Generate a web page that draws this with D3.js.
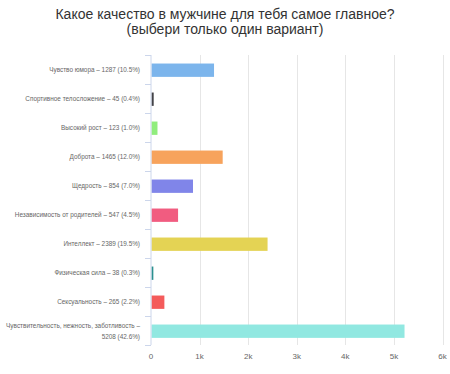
<!DOCTYPE html>
<html>
<head>
<meta charset="utf-8">
<script src="https://cdnjs.cloudflare.com/ajax/libs/d3/7.8.5/d3.min.js"></script>
<style>
  body { margin: 0; background: #fff; }
  svg { display: block; font-family: "Liberation Sans", Arial, sans-serif; }
  .title { fill: #333; font-size: 14px; }
  .cat { fill: #666; font-size: 6.4px; }
  .xlab { fill: #666; font-size: 8px; }
</style>
</head>
<body>
<div id="chart"></div>
<script>
// survey data
var titleLines = ["Какое качество в мужчине для тебя самое главное?", "(выбери только один вариант)"];

var categories = [
  "Чувство юмора",
  "Спортивное телосложение",
  "Высокий рост",
  "Доброта",
  "Щедрость",
  "Независимость от родителей",
  "Интеллект",
  "Физическая сила",
  "Сексуальность",
  "Чувствительность, нежность, заботливость"
];
var votes = [1287, 45, 123, 1465, 854, 547, 2389, 38, 265, 5208];
var percents = ["10.5", "0.4", "1.0", "12.0", "7.0", "4.5", "19.5", "0.3", "2.2", "42.6"];
var colors = ["#7cb5ec", "#434348", "#90ed7d", "#f7a35c", "#8085e9",
              "#f15c80", "#e4d354", "#2b908f", "#f45b5b", "#91e8e1"];
var xTicks = [0, 1000, 2000, 3000, 4000, 5000, 6000];
var xTickLabels = ["0", "1k", "2k", "3k", "4k", "5k", "6k"];

var width = 450, height = 374;
var margin = {top: 55, right: 8, bottom: 29, left: 151};
var innerH = height - margin.top - margin.bottom;

var svg = d3.select("#chart").append("svg")
  .attr("width", width)
  .attr("height", height);

// title
svg.append("text")
  .attr("class", "title")
  .attr("text-anchor", "middle")
  .selectAll("tspan")
  .data(titleLines)
  .enter().append("tspan")
  .attr("x", width / 2)
  .attr("y", function(d, i) { return 19 + i * 14.5; })
  .text(function(d) { return d; });

var x = d3.scaleLinear().domain([0, 6000]).range([0, 291.5]);
var y = d3.scaleBand().domain(d3.range(categories.length)).range([0, innerH]).paddingInner(0.54).paddingOuter(0.27);
var band = d3.scaleBand().domain(d3.range(categories.length)).range([0, innerH]);

var g = svg.append("g").attr("transform", "translate(" + margin.left + "," + margin.top + ")");

// grid
g.selectAll(".grid")
  .data(xTicks.slice(1))
  .enter().append("line")
  .attr("x1", function(d) { return Math.round(x(d)) + 0.5; })
  .attr("x2", function(d) { return Math.round(x(d)) + 0.5; })
  .attr("y1", 0)
  .attr("y2", innerH)
  .attr("stroke", "#e6e6e6")
  .attr("stroke-width", 1);

// bars
g.selectAll(".bar")
  .data(votes)
  .enter().append("rect")
  .attr("x", 0.5)
  .attr("y", function(d, i) { return y(i) + 0.7; })
  .attr("width", function(d) { return x(d); })
  .attr("height", y.bandwidth())
  .attr("fill", function(d, i) { return colors[i]; });

// category axis
g.append("line")
  .attr("x1", 0).attr("x2", 0)
  .attr("y1", 0).attr("y2", innerH)
  .attr("stroke", "#ccd6eb");

g.selectAll(".ytick")
  .data(d3.range(categories.length + 1))
  .enter().append("line")
  .attr("x1", -6).attr("x2", 0)
  .attr("y1", function(d) { return Math.round(d * band.step()) + 0.5; })
  .attr("y2", function(d) { return Math.round(d * band.step()) + 0.5; })
  .attr("stroke", "#ccd6eb");

var labels = g.selectAll(".cat")
  .data(categories)
  .enter().append("text")
  .attr("class", "cat")
  .attr("text-anchor", "end");

labels.each(function(d, i) {
  var full = d + " – " + votes[i] + " (" + percents[i] + "%)";
  var cy = band(i) + band.step() / 2;
  var t = d3.select(this);
  if (full.length > 45) {
    t.append("tspan").attr("x", -11).attr("y", cy - 3).text(d + " –");
    t.append("tspan").attr("x", -11).attr("y", cy + 8).text(votes[i] + " (" + percents[i] + "%)");
  } else {
    t.append("tspan").attr("x", -11).attr("y", cy + 2.5).text(full);
  }
});

// value axis labels
g.selectAll(".xlab")
  .data(xTicks)
  .enter().append("text")
  .attr("class", "xlab")
  .attr("text-anchor", "middle")
  .attr("x", function(d) { return x(d); })
  .attr("y", innerH + 14)
  .text(function(d, i) { return xTickLabels[i]; });
</script>
</body>
</html>
